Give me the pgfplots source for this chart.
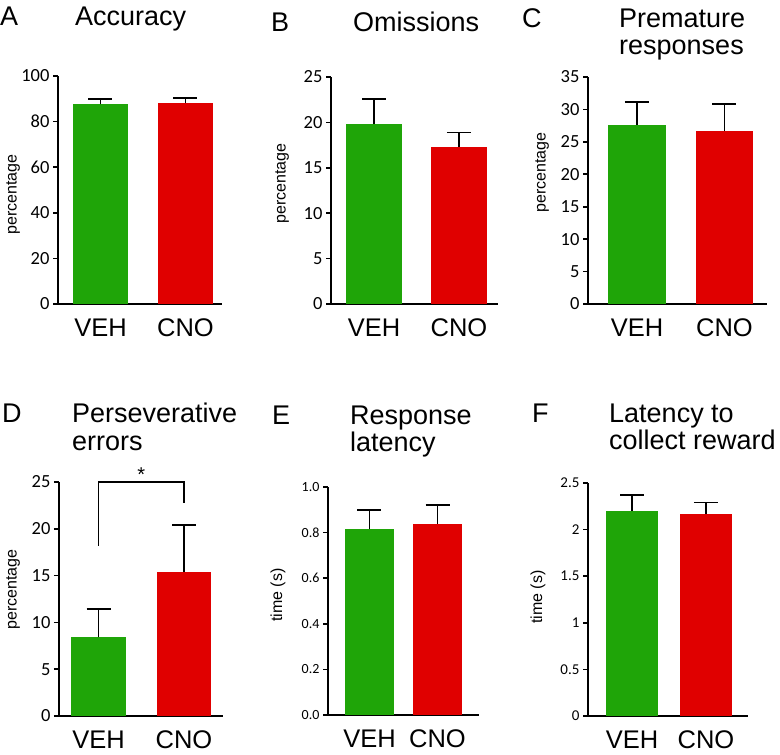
\documentclass[border=0pt]{standalone}
\usepackage{fontspec}
\setmainfont{Liberation Sans}
\newfontfamily\tickfont{Carlito}
\usepackage{pgfplots}
\pgfplotsset{compat=1.18}
\definecolor{vehgreen}{RGB}{31,165,8}
\definecolor{cnored}{RGB}{224,0,0}

\pgfplotsset{
  panel/.style={
    scale only axis, enlargelimits=false, clip=false,
    axis x line=bottom, axis y line=left,
    axis line style={-, line width=1.6pt},
    ymin=0,
    xtick={0,1}, xticklabels={VEH,CNO},
    x tick style={draw=none},
    y tick style={line width=1.6pt, black},
    tick align=outside, major tick length=5pt,
    xticklabel style={font=\fontsize{25.5}{25.5}\selectfont, yshift=-6pt},
    /pgf/number format/assume math mode=true,
    ylabel style={font=\fontsize{16}{16}\selectfont, anchor=center},
  },
  veh/.style={ybar, bar shift=0pt, fill=vehgreen, draw=none,
    error bars/.cd, y dir=plus, y explicit,
    error bar style={line width=1.6pt, black},
    error mark options={rotate=90, black, line width=1.6pt, mark size=12pt}},
  cno/.style={ybar, bar shift=0pt, fill=cnored, draw=none,
    error bars/.cd, y dir=plus, y explicit,
    error bar style={line width=1.6pt, black},
    error mark options={rotate=90, black, line width=1.6pt, mark size=12pt}},
}
\newcommand{\ttl}{\fontsize{27}{29}\selectfont}
\newcommand{\bigtick}{\tickfont\fontsize{18.5}{18.5}\selectfont}

\begin{document}
\begin{tikzpicture}
\useasboundingbox (0,0) rectangle (780pt,755pt);

% A accuracy
\begin{axis}[panel, at={(58pt,451pt)}, anchor=south west,
  width=164pt, height=228pt, xmin=-0.5, xmax=1.43, ymax=100,
  ytick={0,20,40,60,80,100}, yticklabels={0,20,40,60,80,100},
  yticklabel style={font=\bigtick}, bar width=0.647,
  ylabel={percentage}, ylabel style={at={(axis description cs:-0.274,0.48)}}]
\addplot[veh] coordinates {(0,87.5) +- (0,2.5)};
\addplot[cno] coordinates {(1,88.2) +- (0,2.1)};
\end{axis}

% B omissions
\begin{axis}[panel, at={(331pt,451pt)}, anchor=south west,
  width=167pt, height=227pt, xmin=-0.506, xmax=1.459, ymax=25,
  ytick={0,5,10,15,20,25}, yticklabels={0,5,10,15,20,25},
  yticklabel style={font=\bigtick}, bar width=0.66,
  ylabel={percentage}, ylabel style={at={(axis description cs:-0.293,0.53)}}]
\addplot[veh] coordinates {(0,19.8) +- (0,2.8)};
\addplot[cno] coordinates {(1,17.3) +- (0,1.6)};
\end{axis}

% C premature responses
\begin{axis}[panel, at={(588pt,451pt)}, anchor=south west,
  width=179pt, height=227pt, xmin=-0.56, xmax=1.486, ymax=35,
  ytick={0,5,10,15,20,25,30,35}, yticklabels={0,5,10,15,20,25,30,35},
  yticklabel style={font=\bigtick}, bar width=0.66,
  ylabel={percentage}, ylabel style={at={(axis description cs:-0.257,0.58)}}]
\addplot[veh] coordinates {(0,27.6) +- (0,3.5)};
\addplot[cno] coordinates {(1,26.7) +- (0,4.1)};
\end{axis}

% D perseverative errors
\begin{axis}[panel, at={(59pt,39pt)}, anchor=south west,
  width=164pt, height=234pt, xmin=-0.462, xmax=1.456, ymax=25,
  ytick={0,5,10,15,20,25}, yticklabels={0,5,10,15,20,25},
  yticklabel style={font=\bigtick}, bar width=0.643,
  ylabel={percentage}, ylabel style={at={(axis description cs:-0.28,0.54)}}]
\addplot[veh] coordinates {(0,8.4) +- (0,3.0)};
\addplot[cno] coordinates {(1,15.4) +- (0,5.0)};
\draw[line width=1.6pt] (axis cs:0,18.2) -- (axis cs:0,25) -- (axis cs:1,25) -- (axis cs:1,22.8);
\node[anchor=south, inner sep=0pt, font=\fontsize{20}{20}\selectfont] at (axis cs:0.5,25) {*};
\end{axis}

% E response latency
\begin{axis}[panel, at={(328pt,40pt)}, anchor=south west,
  width=151pt, height=228pt, xmin=-0.61, xmax=1.61, ymax=1,
  ytick={0,0.2,0.4,0.6,0.8,1.0}, yticklabels={0.0,0.2,0.4,0.6,0.8,1.0},
  bar width=0.72,
  yticklabel style={font=\tickfont\fontsize{14}{14}\selectfont},
  ylabel={time (s)}, ylabel style={at={(axis description cs:-0.331,0.526)}}]
\addplot[veh] coordinates {(0,0.815) +- (0,0.085)};
\addplot[cno] coordinates {(1,0.838) +- (0,0.082)};
\end{axis}

% F latency to collect reward
\begin{axis}[panel, at={(588pt,39pt)}, anchor=south west,
  width=160pt, height=233pt, xmin=-0.595, xmax=1.568, ymax=2.5,
  ytick={0,0.5,1,1.5,2,2.5}, yticklabels={0,0.5,1,1.5,2,2.5}, bar width=0.70,
  yticklabel style={font=\tickfont\fontsize{15}{15}\selectfont},
  ylabel={time (s)}, ylabel style={at={(axis description cs:-0.3125,0.51)}}]
\addplot[veh] coordinates {(0,2.20) +- (0,0.17)};
\addplot[cno] coordinates {(1,2.17) +- (0,0.12)};
\end{axis}

% panel letters and titles
\begin{scope}[every node/.style={anchor=base west, inner sep=0pt, font=\ttl}]
\node at (0pt,729pt) {A};
\node at (75pt,729pt) {Accuracy};
\node at (271pt,723pt) {B};
\node at (353pt,723pt) {Omissions};
\node at (522pt,727pt) {C};
\node at (619pt,727pt) {Premature};
\node at (619pt,700pt) {responses};
\node at (2pt,332pt) {D};
\node at (72pt,332pt) {Perseverative};
\node at (72pt,304pt) {errors};
\node at (272pt,330pt) {E};
\node at (350pt,330pt) {Response};
\node at (350pt,303pt) {latency};
\node at (532pt,332pt) {F};
\node at (609pt,332pt) {Latency to};
\node at (609pt,305pt) {collect reward};
\end{scope}
\end{tikzpicture}
\end{document}
